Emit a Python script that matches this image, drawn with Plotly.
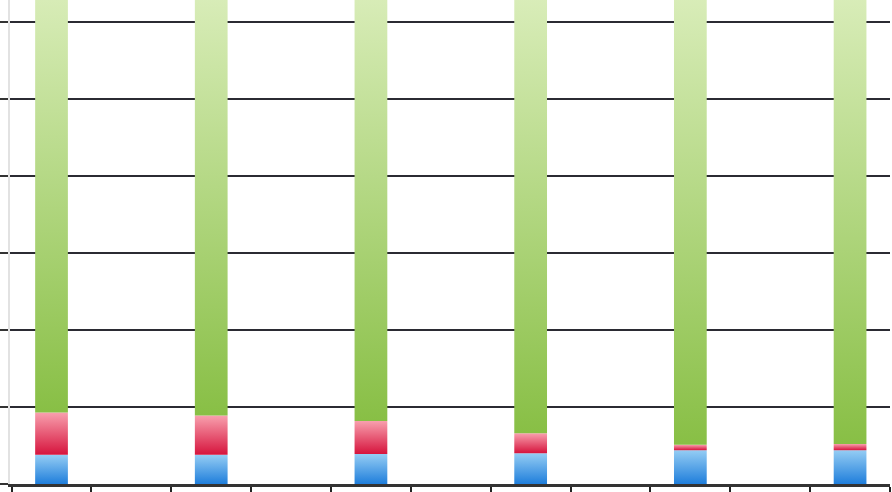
"""Stacked bar chart (scanned print) recreated with Plotly."""

import plotly.graph_objects as go

# Data (bottom to top of each stack); bars sit in every other category slot
bar_slots = [0, 2, 4, 6, 8, 10]
blue_vals = [3.8, 3.8, 3.9, 4.0, 4.4, 4.4]
red_vals = [5.5, 5.1, 4.3, 2.6, 0.7, 0.8]
green_vals = [61.0, 61.0, 62.0, 63.0, 65.0, 65.0]
n_slots = 11

BAR_W = 0.41

# gradient colours: (bottom, top)
series = [
    ("blue", blue_vals, "#1f7edb", "#95cdf4"),
    ("red", red_vals, "#d6143d", "#f8a0ae"),
    ("green", green_vals, "#88bf45", "#e2f2c6"),
]

fig = go.Figure()

base = [0.0] * len(bar_slots)
for name, vals, c_bot, c_top in series:
    for i, slot in enumerate(bar_slots):
        y0 = base[i]
        y1 = base[i] + vals[i]
        x0 = slot - BAR_W / 2
        x1 = slot + BAR_W / 2
        fig.add_trace(go.Scatter(
            x=[x0, x1, x1, x0, x0],
            y=[y0, y0, y1, y1, y0],
            mode="lines",
            line=dict(width=0),
            fill="toself",
            fillgradient=dict(
                type="vertical",
                colorscale=[[0, c_bot], [1, c_top]],
            ),
            name=name,
            showlegend=False,
            hoverinfo="skip",
        ))
        base[i] = y1

fig.update_layout(
    width=892,
    height=492,
    margin=dict(l=10, r=2, t=0, b=8),
    paper_bgcolor="white",
    plot_bgcolor="white",
    showlegend=False,
)

fig.update_xaxes(
    range=[-0.52, n_slots - 0.5],
    tickvals=[k - 0.5 for k in range(n_slots + 1)],
    ticks="outside",
    ticklen=8,
    tickwidth=2,
    tickcolor="#222222",
    showticklabels=False,
    showgrid=False,
    zeroline=False,
    showline=True,
    linecolor="#333333",
    linewidth=3,
)

fig.update_yaxes(
    range=[0, 62.9],
    dtick=10,
    tick0=0,
    ticks="outside",
    ticklen=8,
    tickwidth=2,
    tickcolor="#333333",
    showticklabels=False,
    showgrid=True,
    gridcolor="#2b2b33",
    gridwidth=2,
    zeroline=False,
    showline=True,
    linecolor="#e2e2e2",
    linewidth=2,
)

# drop the browser's default 8px body margin so the figure fills the window
fig.write_html(
    "out.html",
    config={"displayModeBar": False, "staticPlot": True},
    post_script="document.body.style.margin='0';",
)
